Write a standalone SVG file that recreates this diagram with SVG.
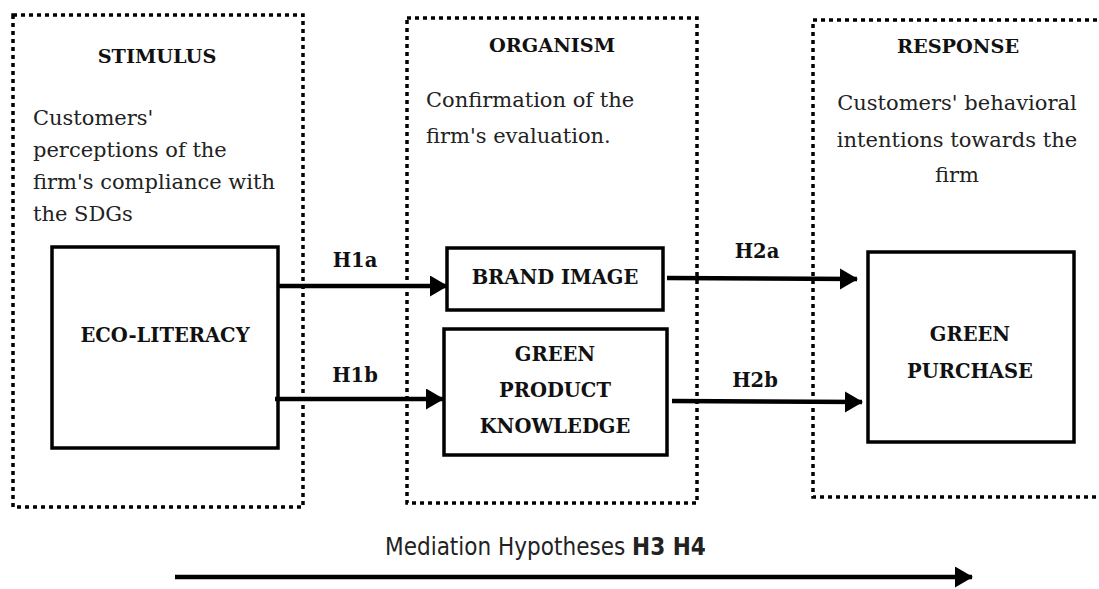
<svg xmlns="http://www.w3.org/2000/svg" width="1099" height="589" viewBox="0 0 1099 589">
<defs>
<style>
.zone{fill:none;stroke:#000;stroke-width:3.5;stroke-dasharray:4 4}
.box{fill:#fff;stroke:#000;stroke-width:3.5}
.conn{stroke:#000;stroke-width:4.5;fill:none}
.hd{font-family:"DejaVu Serif","Liberation Serif",serif;font-weight:bold;font-size:19.3px;fill:#111}
.body{font-family:"DejaVu Serif","Liberation Serif",serif;font-size:21px;fill:#222}
.lbl{font-family:"DejaVu Serif","Liberation Serif",serif;font-weight:bold;font-size:19.5px;fill:#111;text-anchor:middle}
.med{font-family:"DejaVu Sans Condensed","DejaVu Sans",sans-serif;font-size:24px;fill:#222}
</style>
<marker id="ah" markerUnits="userSpaceOnUse" markerWidth="19" markerHeight="22" refX="17" refY="10.5" orient="auto">
<path d="M0,0 L18,10.5 L0,21 Z" fill="#000"/>
</marker>
</defs>
<rect width="1099" height="589" fill="#fff"/>
<g id="stimulus">
<rect class="zone" x="13" y="15" width="290" height="492"/>
<text class="hd" x="157" y="63" text-anchor="middle">STIMULUS</text>
<text class="body" x="33" y="125">Customers'</text>
<text class="body" x="33" y="157">perceptions of the</text>
<text class="body" x="33" y="189">firm's compliance with</text>
<text class="body" x="33" y="221">the SDGs</text>
</g>
<g id="organism">
<rect class="zone" x="407" y="18" width="290" height="485"/>
<text class="hd" x="552" y="52" text-anchor="middle">ORGANISM</text>
<text class="body" x="426" y="107">Confirmation of the</text>
<text class="body" x="426" y="143">firm's evaluation.</text>
</g>
<g id="response">
<path class="zone" d="M1105,20 L813,20 L813,497 L1105,497"/>
<text class="hd" x="958" y="53" text-anchor="middle">RESPONSE</text>
<text class="body" x="957" y="110" text-anchor="middle">Customers' behavioral</text>
<text class="body" x="957" y="147" text-anchor="middle">intentions towards the</text>
<text class="body" x="957" y="182" text-anchor="middle">firm</text>
</g>
<g id="eco-literacy">
<rect class="box" x="52" y="247" width="226" height="201"/>
<text class="lbl" x="165" y="342">ECO-LITERACY</text>
</g>
<g id="brand-image">
<rect class="box" x="447" y="248" width="216" height="62"/>
<text class="lbl" x="555" y="284">BRAND IMAGE</text>
</g>
<g id="green-product-knowledge">
<rect class="box" x="444" y="329" width="223" height="126"/>
<text class="lbl" x="555" y="361">GREEN</text>
<text class="lbl" x="555" y="397">PRODUCT</text>
<text class="lbl" x="555" y="433">KNOWLEDGE</text>
</g>
<g id="green-purchase">
<rect class="box" x="868" y="252" width="206" height="190"/>
<text class="lbl" x="970" y="341">GREEN</text>
<text class="lbl" x="970" y="378">PURCHASE</text>
</g>
<g id="connectors">
<line class="conn" x1="278" y1="286" x2="447" y2="286" marker-end="url(#ah)"/>
<line class="conn" x1="275" y1="399" x2="443" y2="399" marker-end="url(#ah)"/>
<line class="conn" x1="667" y1="278" x2="857" y2="279" marker-end="url(#ah)"/>
<line class="conn" x1="672" y1="401" x2="862" y2="402" marker-end="url(#ah)"/>
<line class="conn" x1="175" y1="577" x2="972" y2="577" marker-end="url(#ah)"/>
<text class="lbl" x="355" y="267">H1a</text>
<text class="lbl" x="355" y="382">H1b</text>
<text class="lbl" x="757" y="258">H2a</text>
<text class="lbl" x="755" y="387">H2b</text>
<text class="med" x="385" y="555">Mediation Hypotheses <tspan font-weight="bold">H3 H4</tspan></text>
</g>
</svg>
